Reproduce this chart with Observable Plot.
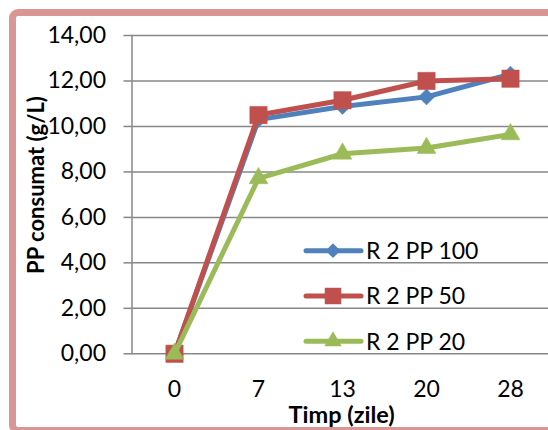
<!DOCTYPE html>
<html>
<head>
<meta charset="utf-8">
<script src="https://cdn.jsdelivr.net/npm/d3@7"></script>
<script src="https://cdn.jsdelivr.net/npm/@observablehq/plot@0.6"></script>
<style>
  html, body { margin: 0; padding: 0; background: #fff; }
  #wrap { position: relative; width: 548px; height: 430px; overflow: hidden; background: #fff; font-family: Lato, "Open Sans", sans-serif; }
  #border { position: absolute; left: 9px; top: 9px; width: 620px; height: 425px; box-sizing: border-box; border: 7px solid #D99694; border-radius: 9px; }
  #plot, #legend { position: absolute; left: 0; top: 0; }
  .title { position: absolute; font-weight: bold; font-size: 22px; color: #000; white-space: nowrap; line-height: 1; }
  #xlab { font-size: 23.5px; }
</style>
</head>
<body>
<div id="wrap">
  <div id="border"></div>
  <div id="plot"></div>
  <div id="legend"></div>
  <div class="title" id="xlab">Timp (zile)</div>
  <div class="title" id="ylab">PP consumat (g/L)</div>
</div>
<script>
// ---- data ----
const days = ["0", "7", "13", "20", "28"];
const seriesNames = ["R 2 PP 100", "R 2 PP 50", "R 2 PP 20"];
const r2pp100 = [0, 10.3, 10.88, 11.3, 12.3];
const r2pp50 = [0, 10.5, 11.15, 12.0, 12.1];
const r2pp20 = [0, 7.72, 8.8, 9.05, 9.65];
const yTicks = [0, 2, 4, 6, 8, 10, 12, 14];
const colors = ["#4F81BD", "#C0504D", "#9BBB59"];
const symbols = ["diamond2", "square", "triangle"];
const radii = [7.2, 9.8, 7];

const seriesValues = [r2pp100, r2pp50, r2pp20];
const rows = seriesValues.map((vals, si) =>
  vals.map((v, i) => ({series: seriesNames[si], day: days[i], value: v}))
);

const fmt = d => d.toFixed(2).replace(".", ",");
const grid = "#878787";

const marks = [
  Plot.ruleY(yTicks, {stroke: grid, strokeWidth: 1.5}),
  Plot.frame({anchor: "left", stroke: grid, strokeWidth: 1.5}),
  Plot.axisY({ticks: yTicks, tickSize: 8, tickPadding: 18, stroke: grid, strokeWidth: 1.5, tickFormat: fmt, label: null, fill: "#000"}),
  Plot.axisX({tickSize: 0, tickPadding: 27, label: null, fill: "#000"})
];
rows.forEach((data, si) => {
  marks.push(Plot.line(data, {x: "day", y: "value", stroke: "series", strokeWidth: 5, strokeLinejoin: "round", strokeLinecap: "round"}));
  marks.push(Plot.dot(data, {x: "day", y: "value", fill: "series", stroke: "series", strokeWidth: 0.5, symbol: symbols[si], r: radii[si]}));
});

const chart = Plot.plot({
  width: 548,
  height: 430,
  marginLeft: 131.5,
  marginRight: -3.5,
  marginTop: 35,
  marginBottom: 76.7,
  style: {background: "transparent", fontFamily: "Lato, 'Open Sans', sans-serif", fontSize: "23px", color: "#000", overflow: "visible"},
  x: {type: "point", domain: days, padding: 0.5, axis: null},
  y: {domain: [0, 14], axis: null},
  color: {domain: seriesNames, range: colors},
  marks
});
document.getElementById("plot").appendChild(chart);

// ---- legend ----
const legendTop = 250.7, legendStep = 45.3;
const lsvg = d3.select("#legend").append("svg")
  .attr("width", 548).attr("height", 430)
  .style("overflow", "visible");
seriesNames.forEach((name, i) => {
  const y = legendTop + i * legendStep;
  const g = lsvg.append("g").attr("transform", `translate(0,${y})`);
  g.append("line").attr("x1", 306).attr("x2", 361).attr("y1", 0).attr("y2", 0)
    .attr("stroke", colors[i]).attr("stroke-width", 5).attr("stroke-linecap", "round");
  const symType = [d3.symbolDiamond2, d3.symbolSquare, d3.symbolTriangle][i];
  const size = Math.PI * radii[i] * radii[i] * (i === 1 ? 0.9 : 0.85);
  g.append("path").attr("d", d3.symbol(symType, size)()).attr("transform", "translate(333,0)")
    .attr("fill", colors[i]);
  g.append("text").attr("x", 366).attr("y", 0).attr("dy", "0.36em")
    .attr("font-family", "Lato, 'Open Sans', sans-serif").attr("font-size", 23).attr("fill", "#000")
    .text(name);
});

// ---- titles ----
const xlab = document.getElementById("xlab");
xlab.style.left = (341.5 - xlab.offsetWidth / 2) + "px";
xlab.style.top = "403px";
const ylab = document.getElementById("ylab");
ylab.style.left = (36 - ylab.offsetWidth / 2) + "px";
ylab.style.top = (185 - ylab.offsetHeight / 2) + "px";
ylab.style.transform = "rotate(-90deg)";
</script>
</body>
</html>
